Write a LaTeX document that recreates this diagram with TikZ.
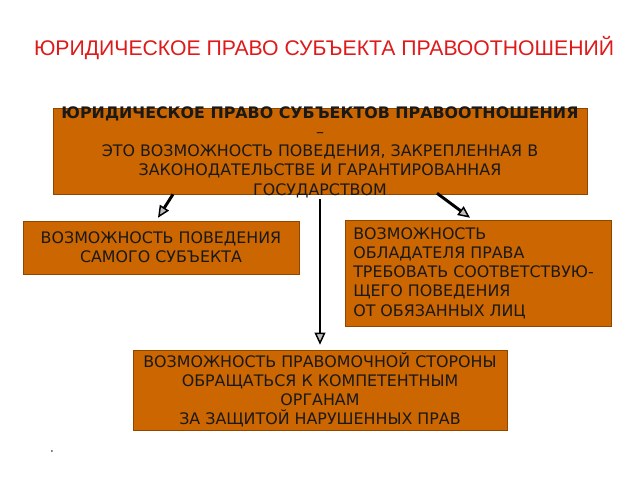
\documentclass[tikz,border=0pt]{standalone}
\usepackage{fontspec}
\setmainfont{DejaVu Sans}
\newfontfamily\titlefont{Liberation Sans}
\usetikzlibrary{calc,arrows.meta}
\definecolor{boxfill}{RGB}{204,102,0}
\definecolor{titlered}{RGB}{222,26,26}

\begin{document}
\begin{tikzpicture}[x=0.75pt, y=-0.75pt,
    box/.style={draw=boxfill!70!black, fill=boxfill, inner sep=0pt},
    txt/.style={text=black!90, font=\fontsize{11.9}{14.4}\selectfont, align=center, inner sep=0pt},
    arr/.style={line width=2.2pt, -{Triangle[length=9pt, width=8pt, fill=gray!50, line width=1.1pt]}}]

    \useasboundingbox (0, 0) rectangle (640, 480);

    \node[text=titlered, font=\titlefont\fontsize{15.9}{18}\selectfont] (title) at (324, 48) {ЮРИДИЧЕСКОЕ ПРАВО СУБЪЕКТА ПРАВООТНОШЕНИЙ};

    % main definition
    \node[box, minimum width=400.5pt, minimum height=64.5pt] (top) at (320, 151) {};
    \node[txt] (toptxt) at (320, 152) {\textbf{ЮРИДИЧЕСКОЕ ПРАВО СУБЪЕКТОВ ПРАВООТНОШЕНИЯ}\\ –\\ ЭТО ВОЗМОЖНОСТЬ ПОВЕДЕНИЯ, ЗАКРЕПЛЕННАЯ В\\ ЗАКОНОДАТЕЛЬСТВЕ И ГАРАНТИРОВАННАЯ\\ ГОСУДАРСТВОМ};

    \node[box, txt, minimum width=207pt, minimum height=39.75pt] (left) at (161, 247.5) {ВОЗМОЖНОСТЬ ПОВЕДЕНИЯ\\ САМОГО СУБЪЕКТА};

    \node[box, minimum width=199.5pt, minimum height=79.5pt] (right) at (478, 273) {};
    \node[txt, align=left, anchor=west] (righttxt) at (353, 273) {ВОЗМОЖНОСТЬ\\ ОБЛАДАТЕЛЯ ПРАВА\\ ТРЕБОВАТЬ СООТВЕТСТВУЮ-\\ ЩЕГО ПОВЕДЕНИЯ\\ ОТ ОБЯЗАННЫХ ЛИЦ};

    \node[box, txt, minimum width=280.5pt, minimum height=60pt] (bottom) at (320, 390) {ВОЗМОЖНОСТЬ ПРАВОМОЧНОЙ СТОРОНЫ\\ ОБРАЩАТЬСЯ К КОМПЕТЕНТНЫМ\\ ОРГАНАМ\\ ЗА ЗАЩИТОЙ НАРУШЕННЫХ ПРАВ};

    \draw[arr] ($(top.south)+(-147, 0)$) -- ($(left.north)+(-3, -3)$);
    \draw[arr] ($(top.south)+(117, -1)$) -- ($(right.north)+(-8, -2)$);
    \draw[arr] ($(top.south)+(0, 5)$) -- ($(bottom.north)+(0, -5)$);

    \node[text=gray, font=\titlefont\fontsize{14}{16}\selectfont] (dot) at (52, 451) {.};

\end{tikzpicture}
\end{document}
